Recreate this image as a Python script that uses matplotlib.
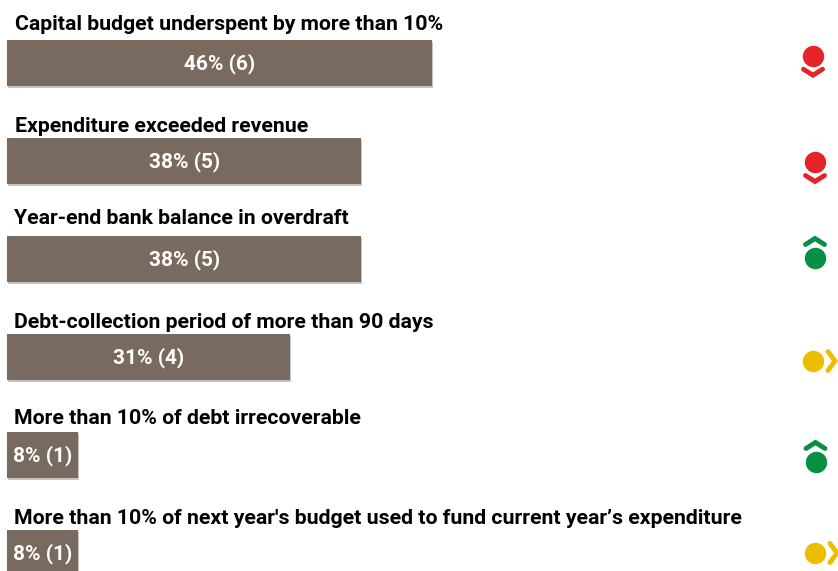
import matplotlib
matplotlib.use("Agg")
import matplotlib.pyplot as plt
import matplotlib.patheffects as pe

# Audit indicators, number of municipalities out of 13
categories = [
    "Capital budget underspent by more than 10%",
    "Expenditure exceeded revenue",
    "Year-end bank balance in overdraft",
    "Debt-collection period of more than 90 days",
    "More than 10% of debt irrecoverable",
    "More than 10% of next year's budget used to fund current year\u2019s expenditure",
]
counts = [6, 5, 5, 4, 1, 1]
percent_labels = ["46%", "38%", "38%", "31%", "8%", "8%"]
trends = ["down", "down", "up", "flat", "up", "flat"]

colours = {"down": "#E52329", "up": "#078F44", "flat": "#EDBE00"}
BAR_COLOUR = "#786A5E"

W, H = 838, 571
plt.rcParams["font.family"] = ["Roboto", "Liberation Sans", "DejaVu Sans"]

fig = plt.figure(figsize=(W / 100, H / 100), dpi=100)

# Bars, with x in counts and y in rows
ax = fig.add_axes([0, 0, 1, 1])
px_per_count = 70.83
row_px = 98
first_row_px = 62.5
ax.set_xlim(-7 / px_per_count, (W - 7) / px_per_count)
ax.set_ylim((H - first_row_px) / row_px, -first_row_px / row_px)
ax.axis("off")

rows = list(range(len(counts)))
bars = ax.barh(rows, counts, height=46 / row_px, color=BAR_COLOUR)
for bar in bars:
    bar.set_path_effects([
        pe.SimplePatchShadow(offset=(0.6, -1.6), shadow_rgbFace="#b5b5b5", alpha=0.8),
        pe.Normal(),
    ])

for row, count, pct in zip(rows, counts, percent_labels):
    ax.text(count / 2, row + 0.01, f"{pct} ({count})", color="white", fontsize=15,
            fontweight="bold", ha="center", va="center")

# Overlay in pixels for the headings and trend icons
over = fig.add_axes([0, 0, 1, 1])
over.set_xlim(0, W)
over.set_ylim(H, 0)
over.axis("off")
over.patch.set_alpha(0)

heading_x = [15, 15, 14, 14, 14, 14]
heading_y = [24, 126, 219, 322, 418, 519]
for text, x, y in zip(categories, heading_x, heading_y):
    over.text(x, y, text, color="black", fontsize=15.27, fontweight="bold",
              ha="left", va="center")

circle_x = [813, 815, 815, 813, 815.5, 815]
circle_y = [55.7, 162, 258, 361, 462, 553]


def chevron(cx, cy, trend, colour):
    # Arrow stroke next to the circle, pointing the way the trend goes
    if trend == "down":
        xs, ys = [cx - 9.5, cx, cx + 9.5], [cy + 13.5, cy + 19.5, cy + 13.5]
    elif trend == "up":
        xs, ys = [cx - 9.5, cx, cx + 9.5], [cy - 13.5, cy - 19.5, cy - 13.5]
    else:
        xs, ys = [cx + 15, cx + 22, cx + 15], [cy - 9.5, cy, cy + 9.5]
    over.plot(xs, ys, color=colour, lw=3.5, solid_capstyle="round",
              solid_joinstyle="miter")


for trend, cx, cy in zip(trends, circle_x, circle_y):
    colour = colours[trend]
    over.plot([cx], [cy], "o", color=colour, markersize=15.4, markeredgewidth=0)
    chevron(cx, cy, trend, colour)

fig.savefig("out.png", dpi=100, facecolor="white")
